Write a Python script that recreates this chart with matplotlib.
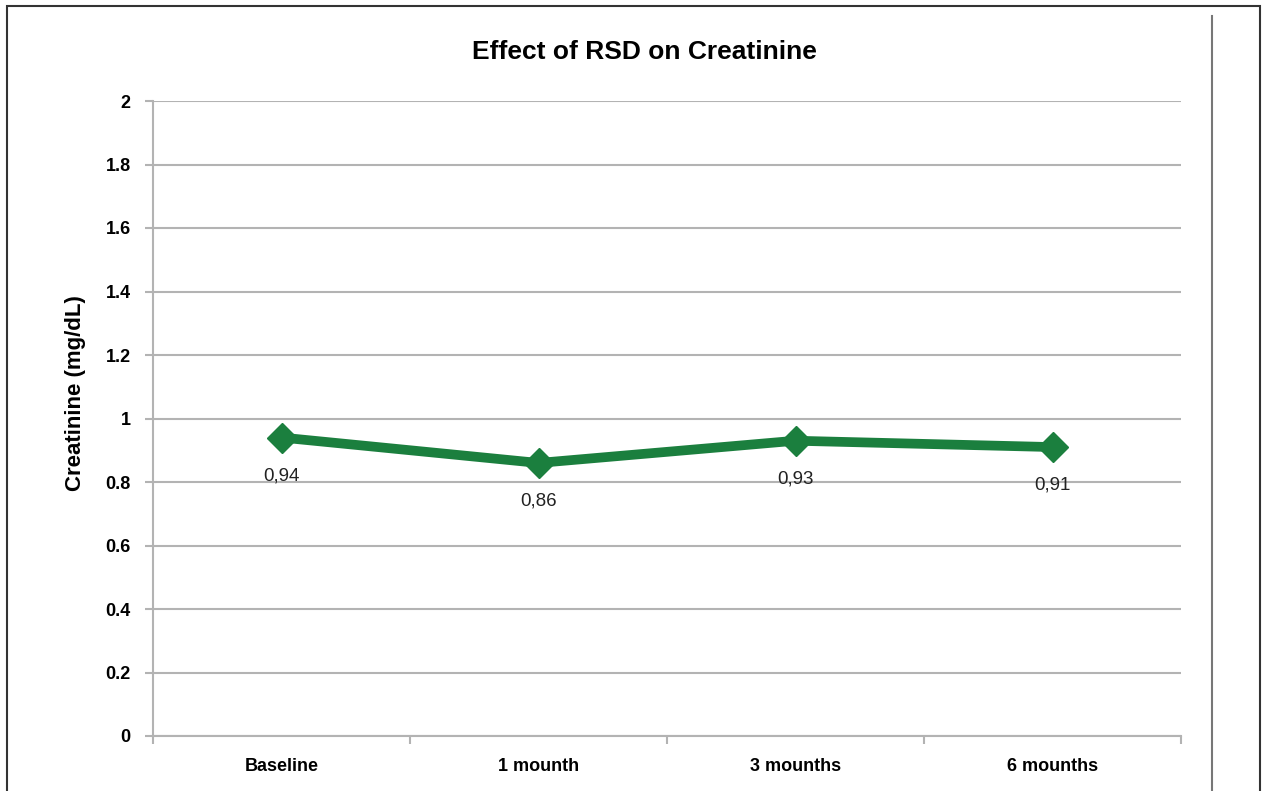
import matplotlib.pyplot as plt
from matplotlib.patches import Rectangle
from matplotlib.lines import Line2D

categories = ['Baseline', '1 mounth', '3 mounths', '6 mounths']
creatinine = [0.94, 0.86, 0.93, 0.91]
yticks = [0, 0.2, 0.4, 0.6, 0.8, 1, 1.2, 1.4, 1.6, 1.8, 2]
ytick_labels = ['0', '0.2', '0.4', '0.6', '0.8', '1', '1.2', '1.4', '1.6', '1.8', '2']

plt.rcParams['font.family'] = ['Liberation Sans', 'DejaVu Sans']
green = '#1b7f3e'
grid_c = '#b3b3b3'

W, H = 1267, 791
fig = plt.figure(figsize=(W / 100, H / 100), dpi=100)
ax = fig.add_axes([153 / W, 1 - 736 / H, (1181 - 153) / W, (736 - 101) / H])

x = range(len(categories))
ax.plot(x, creatinine, color=green, lw=7, marker='D', ms=15, solid_joinstyle='round')
for xi, v in zip(x, creatinine):
    ax.annotate(f'{v:.2f}'.replace('.', ','), (xi, v), xytext=(0, -38), textcoords='offset pixels',
                ha='center', va='center', fontsize=13.5, color='#222222')

ax.set_xlim(-0.5, len(categories) - 0.5)
ax.set_ylim(0, 2)
ax.set_yticks(yticks)
ax.set_yticklabels(ytick_labels, fontsize=13, fontweight='bold')
ax.set_xticks([i + 0.5 for i in range(-1, len(categories))], minor=False)
ax.set_xticklabels([])
ax.set_xticks(list(x), minor=True)
ax.set_xticklabels(categories, minor=True, fontsize=13, fontweight='bold')
ax.tick_params(axis='x', which='major', length=6, color=grid_c, width=1.5, direction='out')
ax.tick_params(axis='x', which='minor', length=0, pad=16)
ax.tick_params(axis='y', length=6, color=grid_c, width=1.5, pad=10)
ax.grid(axis='y', color=grid_c, lw=1.5)
ax.set_axisbelow(True)
for s in ['top', 'right']:
    ax.spines[s].set_visible(False)
for s in ['left', 'bottom']:
    ax.spines[s].set_color(grid_c)
    ax.spines[s].set_linewidth(1.5)

fig.text(76 / W, 1 - 393 / H, 'Creatinine (mg/dL)', rotation=90, fontsize=16, fontweight='bold',
         ha='center', va='center')
fig.text(644 / W, 1 - 52 / H, 'Effect of RSD on Creatinine', fontsize=19, fontweight='bold',
         ha='center', va='center')

# outer frame and right divider
fig.patches.append(Rectangle((7 / W, -0.1), (1260 - 7) / W, 1.1 - 6 / H, transform=fig.transFigure,
                             fill=False, ec='#333333', lw=1.5))
fig.lines.append(Line2D([1212 / W, 1212 / W], [0, 1 - 16 / H], transform=fig.transFigure,
                        color='#777777', lw=1.5))

fig.savefig('out.png', dpi=100)
